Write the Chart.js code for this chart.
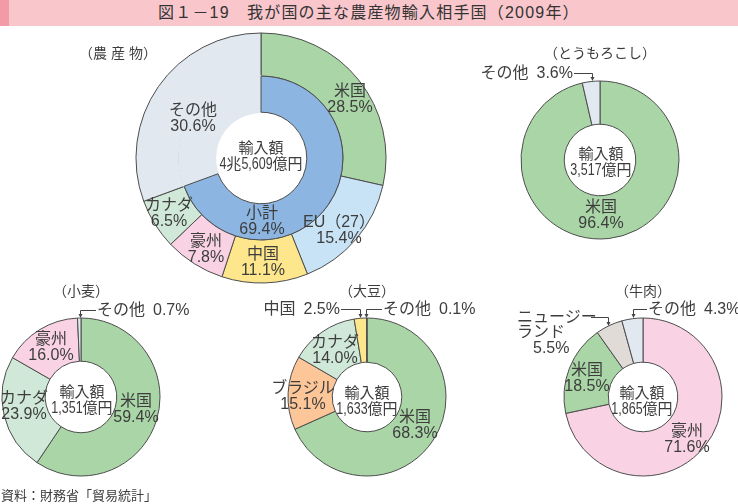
<!DOCTYPE html>
<html><head><meta charset="utf-8">
<script src="https://cdn.jsdelivr.net/npm/chart.js@4/dist/chart.umd.min.js"></script>
<style>
html,body{margin:0;padding:0;background:#fff;}
#wrap{position:relative;width:738px;height:504px;overflow:hidden;font-family:"Liberation Sans","Noto Sans CJK JP",sans-serif;color:#3d3d3d;}
#titlebar{position:absolute;left:0;top:0;width:738px;height:26px;background:#f9c6cc;}
#stripe{position:absolute;left:0;top:0;width:9px;height:26px;background:#f29aa6;}
#title{position:absolute;left:158px;top:0;height:26px;line-height:26px;font-size:16px;letter-spacing:1.2px;white-space:nowrap;color:#333;}
canvas{position:absolute;}
.lbl{position:absolute;transform:translate(-50%,-50%);white-space:nowrap;font-size:16px;line-height:16px;text-align:center;}
.ctr{position:absolute;transform:translate(-50%,-50%);white-space:nowrap;font-size:15px;line-height:16px;text-align:center;font-family:"Noto Sans CJK JP",sans-serif;}
.num{display:inline-block;font-family:"Liberation Sans",sans-serif;font-size:16px;transform:scaleX(0.78);transform-origin:0 50%;}
.l{position:absolute;transform:translate(0,-50%);white-space:nowrap;font-size:16px;line-height:16px;}
.r{position:absolute;transform:translate(-100%,-50%);white-space:nowrap;font-size:16px;line-height:16px;}
.ttl{position:absolute;transform:translate(-50%,-50%);white-space:nowrap;font-size:14px;line-height:16px;}
#src{position:absolute;left:1px;top:488px;font-size:13px;line-height:16px;white-space:nowrap;}
svg{position:absolute;left:0;top:0;}
</style></head>
<body><div id="wrap">
<div id="titlebar"></div><div id="stripe"></div>
<div id="title">図１－19　我が国の主な農産物輸入相手国（2009年）</div>
<canvas id="cAll" width="252" height="252" style="left:135px;top:32px;width:252px;height:252px"></canvas>
<canvas id="cCorn" width="160" height="160" style="left:520px;top:80px;width:160px;height:160px"></canvas>
<canvas id="cWheat" width="160" height="160" style="left:1px;top:317px;width:160px;height:160px"></canvas>
<canvas id="cSoy" width="160" height="160" style="left:287px;top:317px;width:160px;height:160px"></canvas>
<canvas id="cBeef" width="160" height="160" style="left:563px;top:317px;width:160px;height:160px"></canvas>
<svg width="738" height="504" id="lines"></svg>
<div id="labels"></div>
<div id="src">資料：財務省「貿易統計」</div>
</div>
<script>
// ---- data ----
const allCats = ["米国", "EU（27）", "中国", "豪州", "カナダ", "その他"];
const allVals = [28.5, 15.4, 11.1, 7.8, 6.5, 30.6];
const allSubCats = ["その他", "小計"];
const allSubVals = [30.6, 69.4];
const allTotal = "4兆5,609億円";

const cornCats = ["米国", "その他"];
const cornVals = [96.4, 3.6];
const cornTotal = "3,517億円";

const wheatCats = ["米国", "カナダ", "豪州", "その他"];
const wheatVals = [59.4, 23.9, 16.0, 0.7];
const wheatTotal = "1,351億円";

const soyCats = ["米国", "ブラジル", "カナダ", "中国", "その他"];
const soyVals = [68.3, 15.1, 14.0, 2.5, 0.1];
const soyTotal = "1,633億円";

const beefCats = ["豪州", "米国", "ニュージーランド", "その他"];
const beefVals = [71.6, 18.5, 5.5, 4.3];
const beefTotal = "1,865億円";

const colorOf = {
  "米国": "#a9d5a7", "EU（27）": "#c7e3f5", "中国": "#fde68b", "豪州": "#f9d3e3",
  "カナダ": "#d0e8d8", "その他": "#e1e8ef", "小計": "#8cb5e1", "ブラジル": "#fcc698",
  "ニュージーランド": "#e0dbd7"
};
const EDGE = "#4d4d4d";

Chart.defaults.animation = false;
Chart.defaults.devicePixelRatio = 1;

function baseOpts(radius, cutout) {
  return {
    responsive: false, radius: radius, cutout: cutout,
    plugins: { legend: { display: false }, tooltip: { enabled: false } },
    events: []
  };
}
function simple(id, cats, vals, radius, cutout) {
  return new Chart(document.getElementById(id), {
    type: "doughnut",
    data: { labels: cats, datasets: [{ data: vals, backgroundColor: cats.map(c => colorOf[c]), borderColor: EDGE, borderWidth: 1 }] },
    options: baseOpts(radius, cutout)
  });
}

// main chart (two rings)
const innerRot = allSubVals[1] / 100 * 360;
new Chart(document.getElementById("cAll"), {
  type: "doughnut",
  data: {
    labels: allCats,
    datasets: [
      { data: allVals, backgroundColor: allCats.map(c => colorOf[c]), borderColor: EDGE, borderWidth: 1, weight: 43, order: 1 },
      { data: allSubVals, backgroundColor: allSubCats.map(c => colorOf[c]),
        borderColor: allSubCats.map(c => c === "その他" ? colorOf[c] : EDGE),
        borderWidth: allSubCats.map(c => c === "その他" ? 2 : 1),
        weight: 36, order: 0, rotation: innerRot }
    ]
  },
  options: baseOpts(125, 46)
});
simple("cCorn", cornCats, cornVals, 79, 36);
simple("cWheat", wheatCats, wheatVals, 79, 36);
simple("cSoy", soyCats, soyVals, 79, 35);
simple("cBeef", beefCats, beefVals, 79, 35);

// ---- labels ----
const L = document.getElementById("labels");
const GAP = "&ensp;";
function pct(v) { return v.toFixed(1) + "%"; }
function add(cls, x, y, html) {
  const d = document.createElement("div");
  d.className = cls; d.style.left = x + "px"; d.style.top = y + "px"; d.innerHTML = html;
  L.appendChild(d);
}
function two(cats, vals, i) { return cats[i] + "<br>" + pct(vals[i]); }
function centre(total) { return "輸入額<br>" + total.replace(/([0-9,]+)/g, '<span class="num">$1</span>'); }

// main
add("ttl", 118, 53, "（農&nbsp;産&nbsp;物）");
add("lbl", 350, 99, two(allCats, allVals, 0));
add("lbl", 339, 230, two(allCats, allVals, 1));
add("lbl", 263, 262, two(allCats, allVals, 2));
add("lbl", 206, 249, two(allCats, allVals, 3));
add("lbl", 169, 213, two(allCats, allVals, 4));
add("lbl", 193, 118, two(allCats, allVals, 5));
add("lbl", 262, 221, two(allSubCats, allSubVals, 1));
add("ctr", 261, 155, centre(allTotal));

// corn
add("ttl", 600, 53, "（とうもろこし）");
add("r", 573, 73, cornCats[1] + GAP + pct(cornVals[1]));
add("ctr", 601, 161, centre(cornTotal));
add("lbl", 601, 215, two(cornCats, cornVals, 0));

// wheat
add("ttl", 81, 291, "（小麦）");
add("l", 97, 310, wheatCats[3] + GAP + pct(wheatVals[3]));
add("lbl", 51, 347, two(wheatCats, wheatVals, 2));
add("lbl", 24, 406, two(wheatCats, wheatVals, 1));
add("ctr", 82, 399, centre(wheatTotal));
add("lbl", 136, 409, two(wheatCats, wheatVals, 0));

// soy
add("ttl", 367, 291, "（大豆）");
add("r", 340, 309, soyCats[3] + GAP + pct(soyVals[3]));
add("l", 383, 309, soyCats[4] + GAP + pct(soyVals[4]));
add("lbl", 335, 350, two(soyCats, soyVals, 2));
add("lbl", 303, 396, two(soyCats, soyVals, 1));
add("ctr", 367, 400, centre(soyTotal));
add("lbl", 415, 425, two(soyCats, soyVals, 0));

// beef
add("ttl", 643, 291, "（牛肉）");
add("l", 648, 309, beefCats[3] + GAP + pct(beefVals[3]));
add("l", 517, 317, beefCats[2].slice(0, 5));
add("l", 517, 332, beefCats[2].slice(5));
add("l", 533, 348, pct(beefVals[2]));
add("lbl", 587, 378, two(beefCats, beefVals, 1));
add("ctr", 642, 400, centre(beefTotal));
add("lbl", 687, 439, two(beefCats, beefVals, 0));

// condense the numbers in the centre labels (layout width follows the scale)
document.querySelectorAll(".num").forEach(s => {
  const w = s.getBoundingClientRect().width / 0.78;
  s.style.marginRight = (-(1 - 0.78) * w) + "px";
});

// ---- leader lines ----
const S = document.getElementById("lines");
function leader(x1, y, x2, y2) {
  const ns = "http://www.w3.org/2000/svg";
  const p = document.createElementNS(ns, "polyline");
  p.setAttribute("points", `${x1},${y + 0.5} ${x2 + 0.5},${y + 0.5} ${x2 + 0.5},${y2 - 3}`);
  p.setAttribute("fill", "none"); p.setAttribute("stroke", "#444"); p.setAttribute("stroke-width", "1");
  S.appendChild(p);
  const a = document.createElementNS(ns, "polygon");
  a.setAttribute("points", `${x2 - 1.5},${y2 - 4} ${x2 + 2.5},${y2 - 4} ${x2 + 0.5},${y2}`);
  a.setAttribute("fill", "#444");
  S.appendChild(a);
}
leader(574, 73, 592, 81);
leader(96, 310, 80, 318);
leader(341, 309, 360, 318);
leader(382, 309, 366, 318);
leader(647, 309, 633, 318);
leader(591, 317, 608, 326);
</script>
</body></html>
